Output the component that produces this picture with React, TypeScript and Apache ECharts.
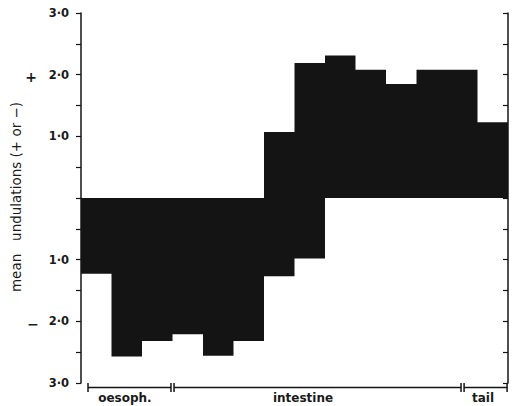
import React, { useEffect, useRef } from "react";
import * as echarts from "echarts";

// body positions (14 equal segments from oesophagus to tail)
const segments = [1, 2, 3, 4, 5, 6, 7, 8, 9, 10, 11, 12, 13, 14];
// mean positive undulations per segment
const upperValues = [0, 0, 0, 0, 0, 0, 1.07, 2.19, 2.31, 2.08, 1.85, 2.08, 2.08, 1.23];
// mean negative undulations per segment
const lowerValues = [-1.23, -2.57, -2.32, -2.21, -2.56, -2.32, -1.27, -0.98, 0, 0, 0, 0, 0, 0];
// labelled y ticks
const yLabelTicks = [-3, -2, -1, 1, 2, 3];
// body regions along the x axis (in segment units)
const regionNames = ["oesoph.", "intestine", "tail"];
const regionStarts = [0.23, 3.05, 12.56];
const regionEnds = [2.95, 12.46, 13.97];
const regionLabelAt = [1.44, 7.28, 13.18];

const FONT = '"DejaVu Sans", "Liberation Sans", Arial, sans-serif';
const INK = "#141414";

export default function App() {
  const ref = useRef<HTMLDivElement>(null);

  useEffect(() => {
    if (!ref.current) return;
    const chart = echarts.init(ref.current, null, { renderer: "svg" });

    const data = segments.map((s, i) => [s - 1, s, lowerValues[i], upperValues[i]]);

    const yAxisBase = {
      type: "value" as const,
      min: -3,
      max: 3,
      interval: 0.5,
      splitLine: { show: false },
      axisLine: { show: true, lineStyle: { color: INK, width: 1.5 } },
    };

    chart.setOption({
      animation: false,
      backgroundColor: "#ffffff",
      grid: { left: 81, right: 13, top: 13, bottom: 23 },
      xAxis: { type: "value", min: 0, max: segments.length, show: false },
      yAxis: [
        {
          ...yAxisBase,
          position: "left",
          axisTick: { show: true, length: 5, inside: false, lineStyle: { color: INK, width: 1.2 } },
          axisLabel: {
            show: true,
            margin: 12,
            color: "#1a1a1a",
            fontFamily: FONT,
            fontWeight: "bold",
            fontSize: 11.5,
            formatter: (v: number) =>
              yLabelTicks.indexOf(v) >= 0 ? Math.abs(v).toFixed(1).replace(".", "·") : "",
          },
        },
        {
          ...yAxisBase,
          position: "right",
          axisTick: { show: true, length: 5, inside: true, lineStyle: { color: INK, width: 1.2 } },
          axisLabel: { show: false },
        },
      ],
      series: [
        {
          type: "custom",
          silent: true,
          data,
          encode: { x: [0, 1], y: [2, 3] },
          renderItem: (params: any, api: any) => {
            // the whole band is drawn as one polygon, so adjacent segments show no seams
            if (params.dataIndex !== 0) return null;
            const pts: number[][] = [];
            for (let i = 0; i < data.length; i++) {
              pts.push(api.coord([data[i][0], data[i][3]]));
              pts.push(api.coord([data[i][1], data[i][3]]));
            }
            for (let i = data.length - 1; i >= 0; i--) {
              pts.push(api.coord([data[i][1], data[i][2]]));
              pts.push(api.coord([data[i][0], data[i][2]]));
            }
            return {
              type: "polygon",
              shape: { points: pts },
              style: { fill: INK },
            };
          },
        },
      ],
    });

    const px = (v: number) => chart.convertToPixel({ xAxisIndex: 0 }, v) as number;
    const lineY = 387.5;
    const graphics: any[] = [];
    regionNames.forEach((name, i) => {
      const x0 = px(regionStarts[i]);
      const x1 = px(regionEnds[i]);
      graphics.push({
        type: "line",
        shape: { x1: x0, y1: lineY, x2: x1, y2: lineY },
        style: { stroke: INK, lineWidth: 1.5 },
      });
      [x0, x1].forEach((x) =>
        graphics.push({
          type: "line",
          shape: { x1: x, y1: lineY - 4.5, x2: x, y2: lineY + 4.5 },
          style: { stroke: INK, lineWidth: 1.5 },
        })
      );
      graphics.push({
        type: "text",
        x: px(regionLabelAt[i]),
        y: 398,
        style: {
          text: name,
          fill: "#1a1a1a",
          font: `bold 12px ${FONT}`,
          textAlign: "center",
          textVerticalAlign: "middle",
        },
      });
    });
    graphics.push(
      {
        type: "text",
        x: 16,
        y: 197,
        rotation: Math.PI / 2,
        style: {
          text: "mean   undulations (+ or −)",
          fill: "#1a1a1a",
          font: `13.5px ${FONT}`,
          textAlign: "center",
          textVerticalAlign: "middle",
        },
      },
      {
        type: "text",
        x: 31,
        y: 77,
        style: {
          text: "+",
          fill: "#1a1a1a",
          font: `bold 14px ${FONT}`,
          textAlign: "center",
          textVerticalAlign: "middle",
        },
      },
      {
        type: "text",
        x: 33,
        y: 324,
        style: {
          text: "−",
          fill: "#1a1a1a",
          font: `bold 14px ${FONT}`,
          textAlign: "center",
          textVerticalAlign: "middle",
        },
      }
    );
    chart.setOption({ graphic: graphics });

    return () => chart.dispose();
  }, []);

  return (
    <div
      ref={ref}
      style={{ position: "fixed", left: 0, top: 0, width: 521, height: 406, background: "#fff" }}
    />
  );
}
